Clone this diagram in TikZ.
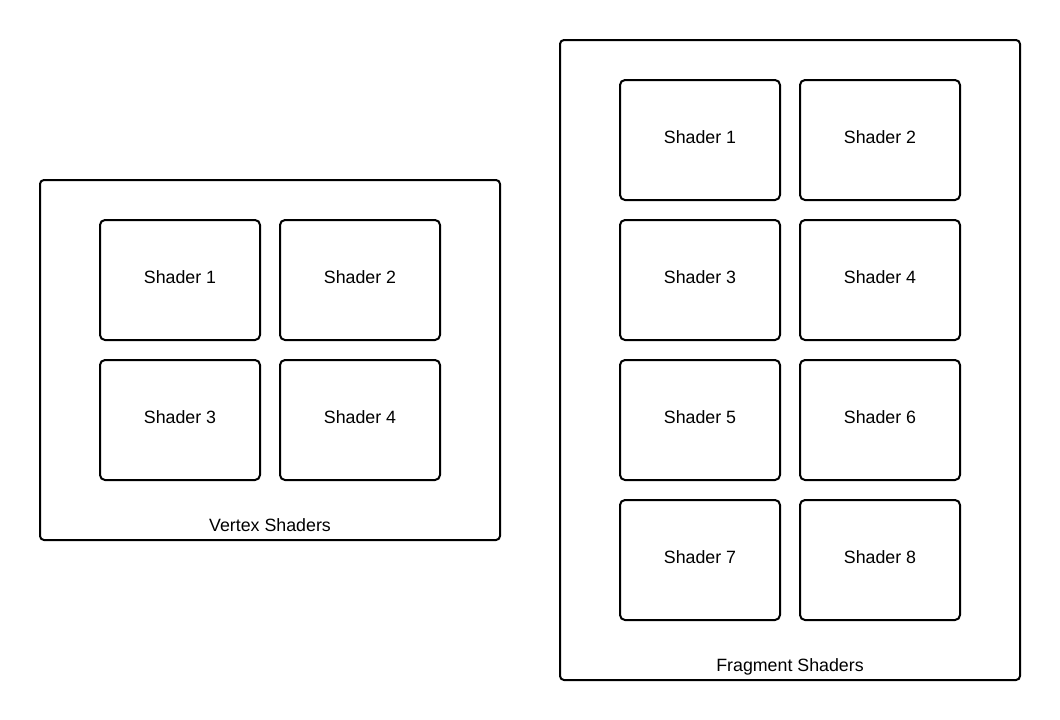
\documentclass[tikz,border=0pt]{standalone}
\usepackage{fontspec}
\setmainfont{Liberation Sans}
\begin{document}
\begin{tikzpicture}[x=1pt,y=-1pt,
  container/.style={draw=black,line width=2pt,rounded corners=4pt},
  shaderbox/.style={draw=black,line width=2pt,rounded corners=5pt,minimum width=160pt,minimum height=120pt,inner sep=0pt,text height=13pt,text depth=6pt,font=\fontsize{17.8}{20}\selectfont},
  grouplabel/.style={font=\fontsize{17.8}{20}\selectfont,inner sep=0pt}]
\useasboundingbox (0,0) rectangle (1060,720);
\fill[white] (0,0) rectangle (1060,720);
% left container
\draw[container] (40,180) rectangle (500,540);
\node[shaderbox] (v1) at (180,280) {Shader 1};
\node[shaderbox] (v2) at (360,280) {Shader 2};
\node[shaderbox] (v3) at (180,420) {Shader 3};
\node[shaderbox] (v4) at (360,420) {Shader 4};
\node[grouplabel] (vl) at (270,525) {Vertex Shaders};
% right container
\draw[container] (560,40) rectangle (1020,680);
\node[shaderbox] (f1) at (700,140) {Shader 1};
\node[shaderbox] (f2) at (880,140) {Shader 2};
\node[shaderbox] (f3) at (700,280) {Shader 3};
\node[shaderbox] (f4) at (880,280) {Shader 4};
\node[shaderbox] (f5) at (700,420) {Shader 5};
\node[shaderbox] (f6) at (880,420) {Shader 6};
\node[shaderbox] (f7) at (700,560) {Shader 7};
\node[shaderbox] (f8) at (880,560) {Shader 8};
\node[grouplabel] (fl) at (790,667) {Fragment Shaders};
\end{tikzpicture}
\end{document}
